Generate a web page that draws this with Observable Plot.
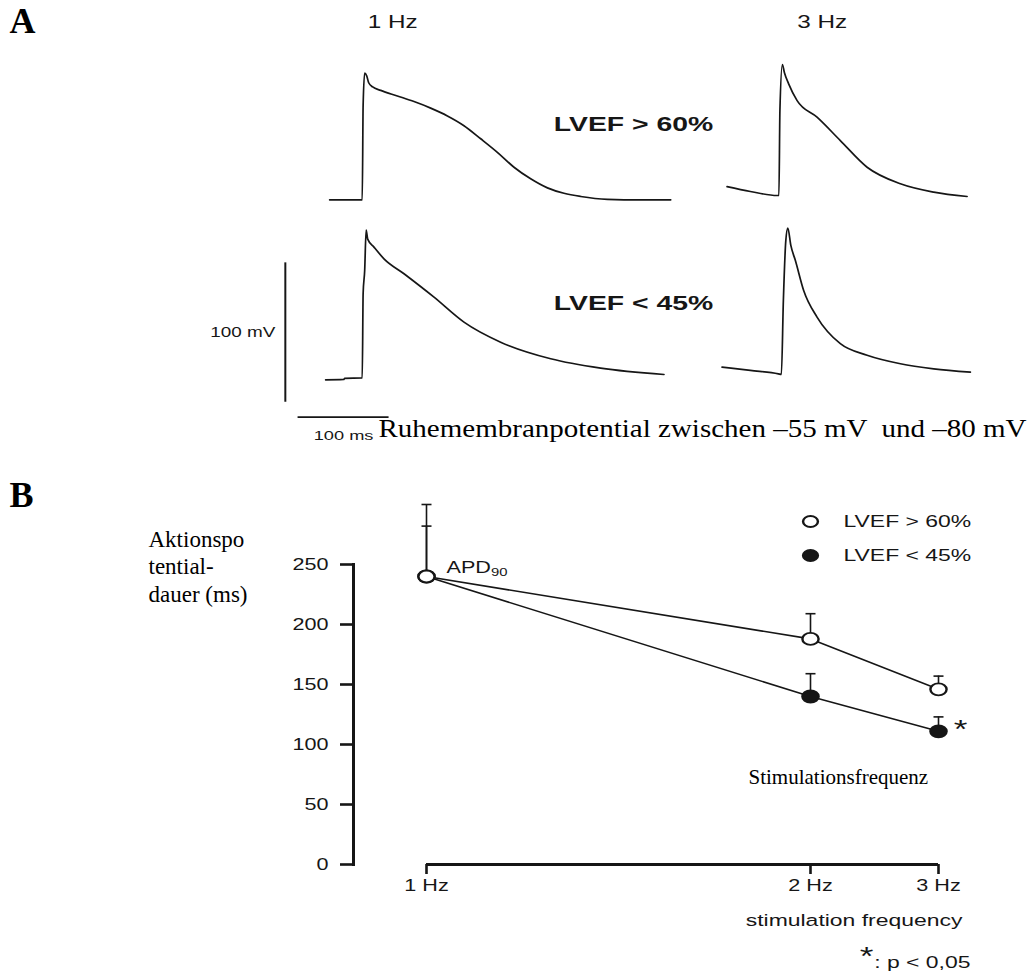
<!DOCTYPE html>
<html>
<head>
<meta charset="utf-8">
<script src="https://cdn.jsdelivr.net/npm/d3@7"></script>
<script src="https://cdn.jsdelivr.net/npm/@observablehq/plot@0.6"></script>
<style>
  html, body { margin: 0; padding: 0; background: #fff; }
  #fig { position: relative; width: 1033px; height: 976px; overflow: hidden; background: #fff; }
  #fig svg { display: block; overflow: visible; }
  #fig text { white-space: pre; }
</style>
</head>
<body>
<div id="fig"></div>
<script>
// ================= DATA =================
// Panel A – action potential traces: time (ms, relative to upstroke) and membrane potential (mV)
const groups = ["LVEF > 60%", "LVEF < 45%"];
const traceColumns = ["1 Hz", "3 Hz"];

const ap1HzPreservedT = [-36.3, -2.2, -0.5, 0.5, 2.2, 4.4, 6.6, 11.0, 19.8, 38.1, 56.4, 74.7, 93.1, 111.3, 129.7, 148.0, 166.3, 184.6, 203.0, 221.2, 239.6, 268.9, 305.5, 338.5];
const ap1HzPreservedV = [-80, -80, -80, -12, 11, 9, 4, 1, -1.5, -5.5, -9.5, -14.2, -19.8, -26.8, -36.2, -45.9, -56.6, -64.9, -71.4, -75.3, -77.6, -79.6, -80, -80];

const ap3HzPreservedT = [-58.6, -33.0, -3.6, -1.6, -0.5, 2.2, 4.4, 9.1, 18.4, 40.3, 65.9, 95.3, 131.9, 168.5, 205.2];
const ap3HzPreservedV = [-70.5, -74.0, -76.9, -76.9, -15.9, 17.1, 11.4, 3.2, -8.8, -20.7, -37.5, -56.6, -68.5, -74.5, -77.6];

const ap1HzReducedT = [-40.7, -20.9, -19.8, -0.5, 0.5, 2.2, 3.8, 5.5, 12.4, 23.4, 45.4, 78.4, 111.3, 151.6, 206.6, 261.5, 331.1];
const ap1HzReducedV = [-80.9, -80.6, -79.9, -79.6, -19.0, -2.5, 26.5, 20.0, 14.3, 5.9, -4.8, -21.6, -39.5, -53.9, -65.8, -72.5, -77.1];

const ap3HzReducedT = [-64.1, -33.0, -2.2, 1.1, 3.3, 6.0, 8.2, 11.5, 16.5, 25.6, 40.3, 65.9, 95.3, 131.9, 168.5, 208.8];
const ap3HzReducedV = [-71.8, -74.2, -76.6, -77.1, -24.0, 19.1, 28.0, 15.5, 4.7, -16.8, -35.9, -55.0, -63.3, -69.4, -73.0, -75.4];

const scaleBarMv = 100;
const scaleBarMs = 100;
const restingCaption = "Ruhemembranpotential zwischen \u201355 mV  und \u201380 mV";

// Panel B – APD90 (ms) vs stimulation frequency
const frequencies = [1, 2, 3];
const frequencyLabels = ["1 Hz", "2 Hz", "3 Hz"];
const apdPreserved = [240, 188, 146];   // LVEF > 60 %
const sdPreserved  = [60, 21, 11];
const apdReduced   = [240, 140, 111];   // LVEF < 45 %
const sdReduced    = [42, 19, 12];
const significant  = [false, false, true];
const yTicks = [0, 50, 100, 150, 200, 250];

// ================= LAYOUT / STYLE =================
const W = 1033, HA = 445, HB = 531;
const PX_PER_MS = 0.91, PX_PER_MV = 1.394;
const Y_TOP_MV = 63;
const columnStartMs = {"1 Hz": 398, "3 Hz": 857};
const columnLabelShiftMs = {"1 Hz": 33, "3 Hz": 46};
const rowShiftMv = {"LVEF > 60%": 0, "LVEF < 45%": -128.2};
const sans = "Liberation Sans, Arial, Helvetica, sans-serif";
const serif = "Liberation Serif, Times New Roman, serif";
const INK = "#161616";
const STRETCH = 1.35;

// ================= PANEL A =================
const traceSets = [
  {freq: "1 Hz", group: groups[0], t: ap1HzPreservedT, v: ap1HzPreservedV},
  {freq: "3 Hz", group: groups[0], t: ap3HzPreservedT, v: ap3HzPreservedV},
  {freq: "1 Hz", group: groups[1], t: ap1HzReducedT, v: ap1HzReducedV},
  {freq: "3 Hz", group: groups[1], t: ap3HzReducedT, v: ap3HzReducedV}
];
const traceRows = traceSets.flatMap(s => s.t.map((t, i) => ({id: s.freq + s.group, freq: s.freq, group: s.group, t, v: s.v[i]})));

const barX = columnStartMs["1 Hz"] - 85;
const barY0 = rowShiftMv[groups[1]] - 97;
const barHY = barY0 - 10.7;
const barX1 = columnStartMs["1 Hz"] - 71;

const plotA = Plot.plot({
  width: W, height: HA, margin: 0,
  x: {domain: [0, W / PX_PER_MS], axis: null},
  y: {domain: [Y_TOP_MV - HA / PX_PER_MV, Y_TOP_MV], axis: null},
  marks: [
    Plot.line(traceRows, {x: d => columnStartMs[d.freq] + d.t, y: d => rowShiftMv[d.group] + d.v, z: "id", curve: "monotone-x", stroke: INK, strokeWidth: 1.7}),
    Plot.ruleX([scaleBarMv], {x: barX, y1: barY0, y2: d => barY0 + d, stroke: INK, strokeWidth: 2}),
    Plot.ruleY([scaleBarMs], {y: barHY, x1: barX1, x2: d => barX1 + d, stroke: INK, strokeWidth: 1.6}),
    Plot.text([scaleBarMv], {x: barX, y: d => barY0 + d / 2, text: d => `${d} mV`, dx: -10, textAnchor: "end", lineAnchor: "middle", fontFamily: sans, fontSize: 14, fill: INK}),
    Plot.text([scaleBarMs], {x: d => barX1 + d / 2, y: barHY, text: d => `${d} ms`, dy: 19, textAnchor: "middle", lineAnchor: "middle", fontFamily: sans, fontSize: 13.5, fill: INK}),
    Plot.text(traceColumns, {x: d => columnStartMs[d] + columnLabelShiftMs[d], frameAnchor: "top", dy: 22, text: d => d, textAnchor: "middle", lineAnchor: "middle", fontFamily: sans, fontSize: 18, fill: INK}),
    Plot.text(groups, {x: columnStartMs["1 Hz"] + 210, y: d => rowShiftMv[d] - 26, text: d => d, textAnchor: "start", lineAnchor: "middle", fontFamily: sans, fontWeight: "bold", fontSize: 21, fill: INK}),
    Plot.text(["A"], {frameAnchor: "top-left", dx: 9, dy: 21, textAnchor: "start", lineAnchor: "middle", fontFamily: serif, fontWeight: "bold", fontSize: 36, fill: "#000"}),
    Plot.text([restingCaption], {frameAnchor: "top-left", dx: 378, dy: 428, textAnchor: "start", lineAnchor: "middle", fontFamily: serif, fontSize: 25, fill: "#000"})
  ]
});

// ================= PANEL B =================
// x position follows the stimulation cycle length (1000 / f ms), as in the original axis
const rowsB = [];
groups.forEach((g, gi) => frequencies.forEach((f, i) => rowsB.push({
  group: g, freq: f, cycle: 1000 / f,
  apd: gi === 0 ? apdPreserved[i] : apdReduced[i],
  sd: gi === 0 ? sdPreserved[i] : sdReduced[i],
  sig: gi === 0 ? false : significant[i]
})));
const cycles = frequencies.map(f => 1000 / f);

const capSymbol = {draw(context, size) { const w = Math.sqrt(size / Math.PI); context.moveTo(-w, 0); context.lineTo(w, 0); }};
const MB = {left: 353, top: 119, bottom: 112, right: 95, inset: 73};
const fB = (ax, ay) => ({frameAnchor: "top-left", dx: ax - MB.left, dy: ay - HA - MB.top});

const legendMarks = groups.flatMap((g, i) => [
  Plot.dot([g], {...fB(810, 521 + 34 * i), r: 5.5, fill: i === 0 ? "white" : INK, stroke: INK, strokeWidth: 1.8}),
  Plot.text([g], {...fB(843, 521 + 34 * i), text: d => d, textAnchor: "start", lineAnchor: "middle", fontFamily: sans, fontSize: 17, fill: INK})
]);

const plotB = Plot.plot({
  width: W, height: HB,
  marginLeft: MB.left, marginTop: MB.top, marginBottom: MB.bottom, marginRight: MB.right,
  x: {domain: [d3.max(cycles), d3.min(cycles)], insetLeft: MB.inset, axis: null},
  y: {domain: [0, 250], axis: null},
  marks: [
    Plot.frame({anchor: "left", stroke: INK, strokeWidth: 3}),
    Plot.ruleY([0], {x1: d3.max(cycles), x2: d3.min(cycles), stroke: INK, strokeWidth: 3}),
    Plot.axisY(yTicks, {anchor: "left", tickSize: 13, tickPadding: 12, tickFormat: d => String(d), label: null, fontFamily: sans, fontSize: 16, strokeWidth: 2.6, color: INK}),
    Plot.axisX(cycles, {anchor: "bottom", tickSize: 10, tickPadding: 5, tickFormat: d => frequencyLabels[cycles.indexOf(d)], label: null, fontFamily: sans, fontSize: 16, strokeWidth: 2.6, color: INK}),
    Plot.line(rowsB, {x: "cycle", y: "apd", z: "group", stroke: INK, strokeWidth: 1.6}),
    Plot.ruleX(rowsB, {x: "cycle", y1: "apd", y2: d => d.apd + d.sd, stroke: INK, strokeWidth: 1.6}),
    Plot.dot(rowsB, {x: "cycle", y: d => d.apd + d.sd, symbol: capSymbol, r: 5, stroke: INK, strokeWidth: 1.6, fill: "none"}),
    Plot.dot(rowsB.filter(d => d.group === groups[1]), {x: "cycle", y: "apd", r: 6, fill: INK, stroke: INK, strokeWidth: 1.8}),
    Plot.dot(rowsB.filter(d => d.group === groups[0]), {x: "cycle", y: "apd", r: 6, fill: "white", stroke: INK, strokeWidth: 1.8}),
    Plot.text(rowsB.filter(d => d.sig), {x: "cycle", y: "apd", text: () => "*", dx: 22, dy: -2, textAnchor: "middle", lineAnchor: "middle", fontFamily: sans, fontSize: 26, fill: INK}),
    ...legendMarks,
    Plot.text(["B"], {...fB(9, 495), textAnchor: "start", lineAnchor: "middle", fontFamily: serif, fontWeight: "bold", fontSize: 36, fill: "#000"}),
    Plot.text(["Aktionspo\ntential-\ndauer (ms)"], {...fB(148, 565), textAnchor: "start", lineAnchor: "middle", lineHeight: 1.2, fontFamily: serif, fontSize: 23, fill: "#000"}),
    Plot.text(["APD"], {...fB(446, 567), textAnchor: "start", lineAnchor: "middle", fontFamily: sans, fontSize: 16, fill: INK}),
    Plot.text(["90"], {...fB(490.5, 572), textAnchor: "start", lineAnchor: "middle", fontFamily: sans, fontSize: 11, fill: INK}),
    Plot.text(["stimulation frequency"], {...fB(962, 920), textAnchor: "end", lineAnchor: "middle", fontFamily: sans, fontSize: 17, fill: INK}),
    Plot.text(["*"], {...fB(873, 956), textAnchor: "end", lineAnchor: "middle", fontFamily: sans, fontSize: 26, fill: INK}),
    Plot.text([": p < 0,05"], {...fB(970, 962), textAnchor: "end", lineAnchor: "middle", fontFamily: sans, fontSize: 17, fill: INK}),
    Plot.text(["Stimulationsfrequenz"], {...fB(748, 777), textAnchor: "start", lineAnchor: "middle", fontFamily: serif, fontSize: 21, fill: "#000"})
  ]
});

// The scanned original is stretched horizontally: widen its sans-serif lettering and dots.
function stretchSans(svg) {
  svg.querySelectorAll("text").forEach(t => {
    const holder = t.closest("[font-family]");
    const fam = holder ? holder.getAttribute("font-family") : "";
    if (/Liberation Serif/i.test(fam)) return;
    t.setAttribute("transform", (t.getAttribute("transform") || "") + ` scale(${STRETCH},1)`);
  });
}
function stretchCircles(svg) {
  svg.querySelectorAll("circle").forEach(c => {
    const cx = +c.getAttribute("cx") || 0, cy = +c.getAttribute("cy") || 0;
    c.setAttribute("transform", `translate(${cx},${cy}) scale(${STRETCH},1) translate(${-cx},${-cy})`);
  });
}
stretchSans(plotA);
stretchSans(plotB);
stretchCircles(plotB);
// the resting-potential caption spans the width under the right-hand traces
plotA.querySelectorAll("text").forEach(t => {
  if (t.textContent === restingCaption) {
    t.setAttribute("textLength", 648);
    t.setAttribute("lengthAdjust", "spacingAndGlyphs");
  }
});

const fig = document.getElementById("fig");
fig.appendChild(plotA);
fig.appendChild(plotB);
</script>
</body>
</html>
